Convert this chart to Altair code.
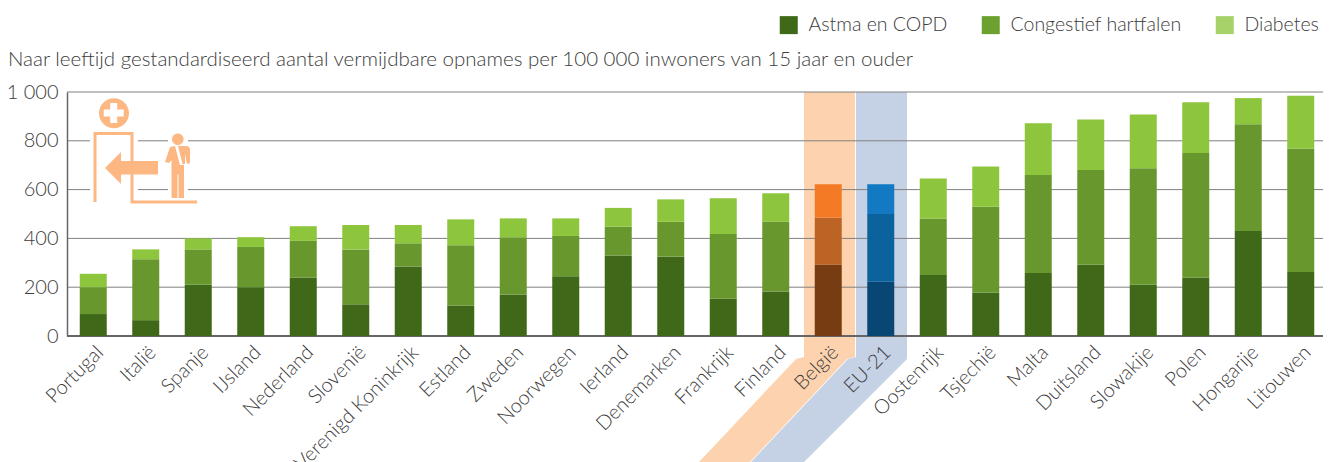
import altair as alt
import pandas as pd

countries = ["Portugal", "Italië", "Spanje", "IJsland", "Nederland", "Slovenië", "Verenigd Koninkrijk",
             "Estland", "Zweden", "Noorwegen", "Ierland", "Denemarken", "Frankrijk", "Finland", "België",
             "EU-21", "Oostenrijk", "Tsjechië", "Malta", "Duitsland", "Slowakije", "Polen", "Hongarije", "Litouwen"]
astma = [90, 65, 210, 200, 240, 130, 285, 125, 170, 245, 330, 325, 153, 182, 293, 222, 250, 178, 258, 292, 210, 240, 430, 262]
hart = [110, 250, 145, 165, 150, 225, 95, 247, 235, 165, 118, 143, 265, 286, 192, 278, 232, 352, 402, 388, 478, 510, 438, 506]
diab = [55, 40, 45, 40, 60, 100, 75, 106, 77, 72, 77, 92, 147, 117, 137, 122, 163, 165, 212, 207, 220, 208, 107, 217]
series = ["Astma en COPD", "Congestief hartfalen", "Diabetes"]
grid_values = [200, 400, 600, 800, 1000]

green = ["#3f6818", "#68972e", "#8dc63c"]
orange = ["#783c12", "#bc6426", "#f47a26"]
blue = ["#084673", "#0c629d", "#1279c2"]
legend_colors = ["#3f6818", "#6ca12f", "#a6d26a"]
FONT = "Lato"
TXT = "#3c3c3c"

rows = []
for i, c in enumerate(countries):
    group = "be" if c == "België" else "eu" if c == "EU-21" else "g"
    for j, vals in enumerate([astma, hart, diab]):
        rows.append({"land": c, "waarde": vals[i], "ord": j, "key": f"{group}{j}"})
df = pd.DataFrame(rows)

keys = [f"{g}{j}" for g in ["g", "be", "eu"] for j in range(3)]
key_colors = green + orange + blue

# highlight ribbons: y in axis units, x in plot pixels
rib_y = [1000, -86, -94, -516]
or_l = [737, 737, 729, 632]
or_r = [788, 788, 780, 683]
bl_l = [789, 789, 781, 684]
bl_r = [840, 840, 840, 737]
ribbons = pd.DataFrame({
    "y": rib_y * 2, "l": or_l + bl_l, "r": or_r + bl_r,
    "g": ["o"] * 4 + ["b"] * 4,
})
px = alt.Scale(domain=[0, 1264], range=[0, 1264])
y_scale = alt.Scale(domain=[0, 1000], nice=False)
y_axis = alt.Axis(values=[0, 200, 400, 600, 800, 1000], grid=False, ticks=False, domain=True,
                  domainColor="#666666", domainWidth=1.5, labelFontSize=20, labelFont=FONT,
                  labelFontWeight=300, labelColor=TXT, labelPadding=9, title=None, orient="left",
                  labelExpr="datum.value == 1000 ? '1 000' : datum.value + ''", zindex=1)


def rib(g, col):
    return alt.Chart(ribbons[ribbons.g == g]).mark_area(orient="horizontal", color=col, opacity=1).encode(
        y=alt.Y("y:Q", scale=y_scale, axis=None, sort=None),
        x=alt.X("l:Q", scale=px, axis=None),
        x2="r:Q",
    )


gridl = alt.Chart(pd.DataFrame({"v": grid_values})).mark_rule(color="#808080", strokeWidth=1).encode(
    y=alt.Y("v:Q", scale=y_scale, axis=None), x=alt.value(0), x2=alt.value(1256))
base = alt.Chart(pd.DataFrame({"v": [0]})).mark_rule(color="#666666", strokeWidth=2).encode(
    y=alt.Y("v:Q", scale=y_scale, axis=None), x=alt.value(0), x2=alt.value(1256))

bars = alt.Chart(df).mark_bar(size=27).encode(
    x=alt.X("land:N", sort=countries, title=None,
            scale=alt.Scale(domain=countries, range=[0, 1260], paddingInner=0.486, paddingOuter=0.243),
            axis=alt.Axis(labelAngle=-45, labelAlign="right", labelBaseline="top", domain=False, ticks=False,
                          labelFontSize=20, labelFont=FONT, labelFontWeight=300, labelColor=TXT, labelPadding=6,
                          labelOverlap=False, labelLimit=0, zindex=1)),
    y=alt.Y("waarde:Q", stack="zero", scale=y_scale, title=None, axis=y_axis),
    color=alt.Color("key:N", scale=alt.Scale(domain=keys, range=key_colors), legend=None),
    order=alt.Order("ord:Q"),
)

legend_layer = alt.Chart(pd.DataFrame({"s": series})).mark_bar(size=0).encode(
    y=alt.datum(0, scale=y_scale, axis=None), x=alt.value(0),
    fill=alt.Fill("s:N", scale=alt.Scale(domain=series, range=legend_colors), title=None,
                  legend=alt.Legend(orient="none", legendX=712, legendY=-77, direction="horizontal",
                                    symbolType="square", symbolSize=324, symbolStrokeWidth=0, labelFontSize=19.5,
                                    labelFont=FONT, labelFontWeight=300, labelColor=TXT, labelOffset=10,
                                    columnPadding=33, columns=3, labelLimit=0)),
)

# pictogram, path units are pixels from the plot's top-left corner
halo_path = "M23 30H71V112H23Z M101 30H121V112H101Z"
white_path = "M43.2 11h7v6.5h6.5v7h-6.5v6.5h-7v-6.5h-6.5v-7h6.5Z"
icon_path = (
    "M32 21.3a15 15 0 1 0 30 0a15 15 0 1 0 -30 0Z "
    "M26.5 110V40H66.5V108.5H130V111.5H63.5V43H29.5V110Z "
    "M38 76L54 60V69H91V82.5H54V92Z "
    "M105 47.3a5.8 5.8 0 1 0 11.6 0a5.8 5.8 0 1 0 -11.6 0Z "
    "M103 55L108 54L113 73H117V106H111.5V82.5H110.5V106H104.5V68L102 71L98 70Z "
    "M111 54H119C122 54 123 56 123 58V71L120 72L118 62V72H115.5Z"
)


def glyph(path, col):
    return alt.Chart(pd.DataFrame({"s": ["icon"]})).mark_point(
        shape=path, size=4, filled=True, color=col, opacity=1, strokeWidth=0
    ).encode(x=alt.value(0), y=alt.value(0))


chart = alt.layer(
    rib("o", "#fdd2ae"), rib("b", "#c5d2e6"), gridl, base,
    glyph(halo_path, "white"), glyph(icon_path, "#fdb782"), glyph(white_path, "white"),
    bars, legend_layer,
).resolve_scale(
    x="independent", color="independent"
).resolve_axis(
    y="independent"
).properties(
    width=1256, height=244,
    autosize=alt.AutoSizeParams(type="none"),
    padding={"left": 59, "top": 84, "right": 0, "bottom": 126},
    title=alt.TitleParams("Naar leeftijd gestandardiseerd aantal vermijdbare opnames per 100 000 inwoners van 15 jaar en ouder",
                          anchor="start", frame="group", dx=-59, dy=69, fontSize=20.5, font=FONT, fontWeight=300, color=TXT, offset=14),
).configure_view(stroke=None)

chart.save("out.html", embed_options={"renderer": "svg", "actions": False})
